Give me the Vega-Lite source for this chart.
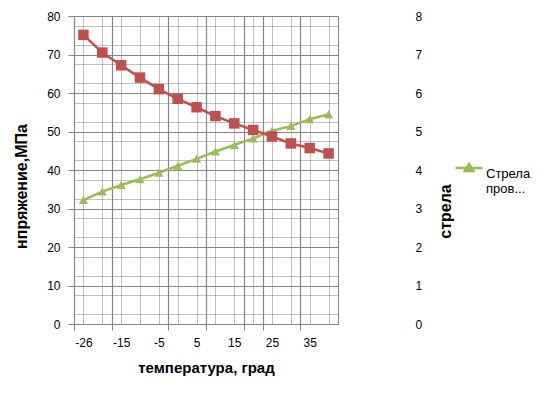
{
  "$schema": "https://vega.github.io/schema/vega-lite/v6.json",
  "width": 264,
  "height": 308,
  "autosize": {"type": "none"},
  "padding": {"left": 74, "top": 16, "right": 203, "bottom": 69},
  "background": "white",
  "config": {
    "font": "Liberation Sans",
    "view": {"stroke": "#868686", "strokeWidth": 1},
    "axis": {"labelFont": "Liberation Sans", "titleFont": "Liberation Sans", "labelColor": "#000", "titleColor": "#000", "labelFontSize": 12},
    "legend": {"labelLineHeight": 22}
  },
  "data": {
    "values": [
      {"t": -26, "s": 75.1, "f": 3.22},
      {"t": -20, "s": 70.5, "f": 3.44},
      {"t": -15, "s": 67.2, "f": 3.61},
      {"t": -10, "s": 64.0, "f": 3.76},
      {"t": -5, "s": 61.0, "f": 3.93},
      {"t": 0, "s": 58.5, "f": 4.11},
      {"t": 5, "s": 56.3, "f": 4.29},
      {"t": 10, "s": 54.0, "f": 4.48},
      {"t": 15, "s": 52.1, "f": 4.65},
      {"t": 20, "s": 50.4, "f": 4.82},
      {"t": 25, "s": 48.7, "f": 5.02},
      {"t": 30, "s": 46.9, "f": 5.14},
      {"t": 35, "s": 45.7, "f": 5.32},
      {"t": 40, "s": 44.3, "f": 5.45}
    ]
  },
  "layer": [
    {
      "encoding": {
        "x": {
          "field": "t", "type": "ordinal", "sort": "ascending",
          "scale": {"type": "point", "padding": 0.5},
          "axis": {"orient": "top", "labels": false, "ticks": false, "domain": false, "title": null, "grid": true, "gridColor": "#bfbfbf", "gridWidth": 1}
        },
        "y": {
          "field": "f", "type": "quantitative",
          "scale": {"domain": [0, 8], "nice": false},
          "axis": {"orient": "right", "values": [0,1,2,3,4,5,6,7,8], "domain": false, "ticks": false, "grid": false, "labelPadding": 77, "labelAlign": "left", "labelFontSize": 12,
                   "title": "стрела", "titleFontSize": 16, "titleFontWeight": "bold", "titleAngle": 270, "titleY": 195, "titlePadding": 32}
        }
      },
      "layer": [
        {
          "mark": {"type": "line", "strokeWidth": 2.5},
          "encoding": {
            "color": {"datum": "Стрела прогиба", "type": "nominal", "scale": {"range": ["#9bbb59"]},
              "legend": {"title": null, "orient": "none", "legendX": 380, "legendY": 137,
                "symbolType": "M-1,0H1M-0.32,0.22L0,-0.3L0.32,0.22Z", "symbolSize": 729, "symbolStrokeWidth": 2.5,
                "symbolFillColor": "#9bbb59", "symbolStrokeColor": "#9bbb59",
                "labelExpr": "['Стрела', 'пров...']", "labelFontSize": 13, "labelColor": "#000", "labelFont": "Liberation Sans", "labelOffset": 2, "labelBaseline": "top", "labelLineHeight": 22}}
          }
        },
        {
          "mark": {"type": "point", "shape": "triangle-up", "filled": true, "size": 85, "opacity": 1},
          "encoding": {
            "color": {"datum": "Стрела прогиба", "type": "nominal"}
          }
        }
      ]
    },
    {
      "encoding": {
        "x": {
          "field": "t", "type": "ordinal", "sort": "ascending",
          "scale": {"type": "point", "padding": 0.5},
          "axis": {
            "orient": "bottom", "title": "температура, град", "titleFontSize": 15, "titleFontWeight": "bold", "titlePadding": 12,
            "labelAngle": 0, "labelPadding": 7, "labelFontSize": 12,
            "tickOffset": -9.43, "labelOffset": 9.43, "tickSize": 6,
            "tickColor": "#868686", "domainColor": "#868686",
            "tickOpacity": {"condition": {"test": "indexof([-26,-15,0,10,20,25,35], datum.value) >= 0", "value": 1}, "value": 0},
            "labelExpr": "indexof([-26,-15,-5,5,15,25,35], datum.value) >= 0 ? datum.label : ''",
            "grid": true, "gridColor": "#868686", "gridWidth": 1.2,
            "gridOpacity": {"condition": {"test": "indexof([-26,-15,0,10,20,25,35], datum.value) >= 0", "value": 1}, "value": 0}
          }
        },
        "y": {
          "field": "s", "type": "quantitative",
          "scale": {"domain": [0, 80], "nice": false},
          "axis": {
            "orient": "left",
            "values": [0,2.5,7.5,10,12.5,17.5,20,22.5,27.5,30,32.5,37.5,40,42.5,47.5,50,52.5,57.5,60,62.5,67.5,70,72.5,77.5,80],
            "labelExpr": "datum.value % 10 === 0 ? datum.label : ''",
            "tickSize": 6, "tickColor": "#868686", "domainColor": "#868686", "labelPadding": 8, "labelFontSize": 12,
            "tickOpacity": {"condition": {"test": "datum.value % 10 === 0", "value": 1}, "value": 0},
            "grid": true, "gridColor": "#868686",
            "gridOpacity": {"condition": {"test": "datum.value % 10 === 0", "value": 1}, "value": 0.5},
            "title": "нпряжение,МПа", "titleFontSize": 16, "titleFontWeight": "bold", "titleY": 170, "titlePadding": 17
          }
        }
      },
      "layer": [
        {"mark": {"type": "line", "strokeWidth": 2.5, "color": "#c0504d"}},
        {"mark": {"type": "square", "filled": true, "size": 110, "color": "#c0504d", "opacity": 1}}
      ]
    }
  ],
  "resolve": {"scale": {"x": "independent", "y": "independent"}, "axis": {"x": "independent", "y": "independent"}}
}
